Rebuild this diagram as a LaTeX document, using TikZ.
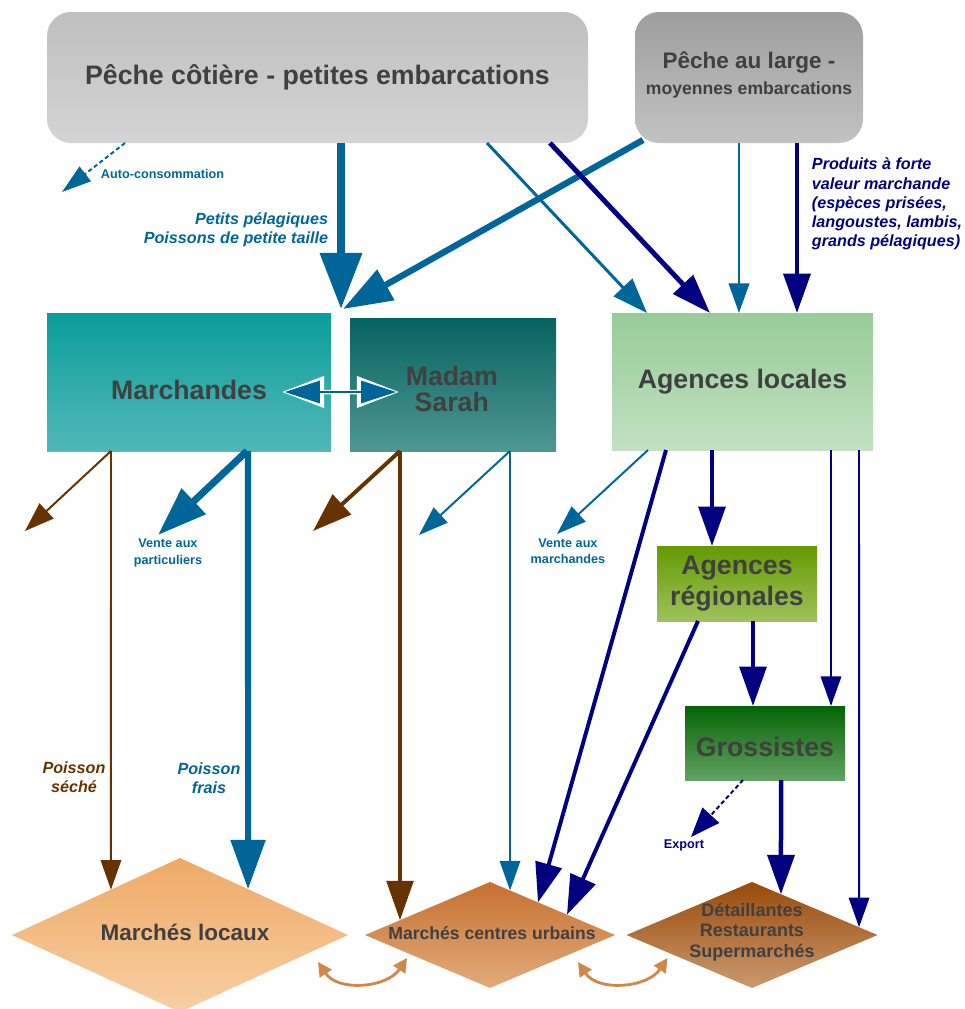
\documentclass[tikz,border=0pt]{standalone}
\usepackage{fontspec}
\setmainfont{Liberation Sans}
\usetikzlibrary{positioning,shapes.geometric,arrows.meta,calc}

\definecolor{fishblue}{HTML}{00669A}
\definecolor{fishnavy}{HTML}{000080}
\definecolor{fishbrown}{HTML}{663300}
\definecolor{labelgray}{HTML}{404040}
\definecolor{curvorange}{HTML}{D08848}

\newcommand{\pu}{0.025cm}

\begin{document}
\begin{tikzpicture}[
    x=\pu, y=-\pu,
    box/.style={rectangle, inner sep=0pt, outer sep=0pt, align=center, text=labelgray, font=\fontsize{19}{18.5}\selectfont\bfseries},
    boxtext/.style={align=center, text=labelgray, font=\fontsize{19}{18.5}\selectfont\bfseries},
    boat/.style={box, rounded corners=0.6cm},
    market/.style={diamond, inner sep=0pt, outer sep=0pt},
    mtext/.style={align=center, text=labelgray},
    hugetip/.style={-{Triangle[length=40pt,width=29pt]}},
    bigtip/.style={-{Triangle[length=35pt,width=24pt]}},
    midtip/.style={-{Triangle[length=28pt,width=19pt]}},
    smalltip/.style={-{Triangle[length=21pt,width=14.5pt]}},
    swaprim/.style={white, line width=3.2pt, {Triangle[length=30pt,width=22pt]}-{Triangle[length=30pt,width=22pt]}},
    swaparrow/.style={fishblue, line width=1.2pt, {Triangle[length=25pt,width=16pt]}-{Triangle[length=25pt,width=16pt]}, shorten <=2pt, shorten >=2pt},
    note/.style={font=\fontsize{11.5}{13.7}\selectfont\bfseries\itshape},
    tag/.style={font=\fontsize{9}{11.5}\selectfont\bfseries},
]
\useasboundingbox (0,0) rectangle (965,1009);

% Sources
\node[boat, minimum width=541*\pu, minimum height=131*\pu, top color=black!25, bottom color=black!17] (cotiere) at (317.5,77.5) {Pêche côtière - petites embarcations};
\node[boat, minimum width=228*\pu, minimum height=131*\pu, top color=black!38, bottom color=black!24,
      label={[boxtext, yshift=0.07cm, font=\fontsize{16}{18.5}\selectfont\bfseries]center:Pêche au large -\\{\fontsize{12.5}{18.5}\selectfont moyennes embarcations}}] (large) at (749,77.5) {};

% Intermediaries
\node[box, minimum width=284*\pu, minimum height=138*\pu, top color={rgb,255:red,10;green,158;blue,154}, bottom color={rgb,255:red,82;green,184;blue,184},
      label={[boxtext, yshift=-0.2cm]center:Marchandes}] (march) at (189,382) {};
\node[box, minimum width=206*\pu, minimum height=133*\pu, top color={rgb,255:red,7;green,99;blue,95}, bottom color={rgb,255:red,79;green,151;blue,147},
      label={[boxtext, xshift=-0.03cm, yshift=-0.12cm]center:Madam\\Sarah}] (sarah) at (453,384.5) {};
\node[box, minimum width=261*\pu, minimum height=137*\pu, top color={rgb,255:red,152;green,203;blue,152}, bottom color={rgb,255:red,194;green,225;blue,194}] (agloc) at (742.5,381.5) {Agences locales};
\node[box, minimum width=160*\pu, minimum height=75*\pu, top color={rgb,255:red,100;green,154;blue,0}, bottom color={rgb,255:red,158;green,194;blue,94}, font=\fontsize{19}{22.5}\selectfont\bfseries] (agreg) at (737,583.5) {Agences\\régionales};
\node[box, minimum width=160*\pu, minimum height=74*\pu, top color={rgb,255:red,5;green,100;blue,5}, bottom color={rgb,255:red,98;green,162;blue,98},
      label={[boxtext, yshift=-0.1cm]center:Grossistes}] (gross) at (765,743) {};

% Markets
\node[market, minimum width=336*\pu, minimum height=154*\pu, top color={rgb,255:red,238;green,170;blue,102}, bottom color={rgb,255:red,248;green,207;blue,164}] (locaux) at (180,935) {};
\node[mtext, font=\fontsize{16}{18}\selectfont\bfseries] (locauxtext) at (185,932) {Marchés locaux};
\node[market, minimum width=250*\pu, minimum height=106*\pu, top color={rgb,255:red,198;green,112;blue,48}, bottom color={rgb,255:red,226;green,172;blue,124}] (urbains) at (490,935) {};
\node[mtext, font=\fontsize{12.5}{14.5}\selectfont\bfseries] (urbainstext) at (492,933) {Marchés centres urbains};
\node[market, minimum width=251*\pu, minimum height=106*\pu, top color={rgb,255:red,154;green,74;blue,10}, bottom color={rgb,255:red,202;green,154;blue,112}] (detail) at (752,935) {};
\node[mtext, font=\fontsize{12.8}{14.5}\selectfont\bfseries] (detailtext) at (752,932) {Détaillantes\\Restaurants\\Supermarchés};

% Free ends
\coordinate (entry) at (343,309);
\coordinate (auto) at (62,192);
\coordinate (dry) at (25,531);
\coordinate (retail) at (158,535);
\coordinate (sarahdry) at (313,531);
\coordinate (sarahsale) at (419,535);
\coordinate (vendors) at (557,534);
\coordinate (export) at (691,837);

% Flows from the boats
\draw[fishblue, line width=1.4pt, dash pattern=on 3pt off 2pt, -{Triangle[length=21pt,width=13pt]}] (125,0 |- cotiere.south) -- (auto);
\draw[fishblue, line width=5.7pt, hugetip] (341,0 |- cotiere.south) -- (341,0 |- entry);
\draw[fishblue, line width=4.5pt, bigtip] ([shift={(8,-3)}]large.south west) -- (entry);
\draw[fishblue, line width=2.1pt, -{Triangle[length=25pt,width=18pt]}] (487,0 |- cotiere.south) -- (647,0 |- agloc.north);
\draw[fishnavy, line width=3.5pt, midtip] (550,0 |- cotiere.south) -- (710,0 |- agloc.north);
\draw[fishblue, line width=1.8pt, smalltip] (739,0 |- large.south) -- (739,0 |- agloc.north);
\draw[fishnavy, line width=3.2pt, midtip] (797,0 |- large.south) -- (797,0 |- agloc.north);
\draw[swaprim] ([shift={(-49,10)}]march.east) -- ([shift={(49,7.5)}]sarah.west);
\draw[swaparrow] ([shift={(-49,10)}]march.east) -- ([shift={(49,7.5)}]sarah.west);

% Flows from Marchandes and Madam Sarah
\draw[fishbrown, line width=1.4pt, smalltip] (111,0 |- march.south) -- (dry);
\draw[fishbrown, line width=1.4pt, smalltip] (111,0 |- march.south) -- ($(locaux.west)!0.589!(locaux.north)$);
\draw[fishblue, line width=5pt, bigtip] (247,0 |- march.south) -- (retail);
\draw[fishblue, line width=4.3pt, bigtip] (248,0 |- march.south) -- ($(locaux.north)!0.405!(locaux.east)$);
\draw[fishbrown, line width=2.8pt, midtip] (400,0 |- sarah.south) -- (sarahdry);
\draw[fishbrown, line width=2.5pt, midtip] (400,0 |- sarah.south) -- ($(urbains.west)!0.28!(urbains.north)$);
\draw[fishblue, line width=1.4pt, smalltip] (510,0 |- sarah.south) -- (sarahsale);
\draw[fishblue, line width=1.4pt, smalltip] (510,0 |- sarah.south) -- ($(urbains.north)!0.16!(urbains.east)$);

% Flows from the agencies
\draw[fishblue, line width=1.4pt, smalltip] (648,0 |- agloc.south) -- (vendors);
\draw[fishnavy, line width=2.8pt, midtip] (666,0 |- agloc.south) -- ($(urbains.north)!0.384!(urbains.east)$);
\draw[fishnavy, line width=2.8pt, midtip] (712,0 |- agloc.south) -- (712,0 |- agreg.north);
\draw[fishnavy, line width=1.4pt, smalltip] (831,0 |- agloc.south) -- (831,0 |- gross.north);
\draw[fishnavy, line width=1.4pt, smalltip] (859,0 |- agloc.south) -- ($(detail.north)!0.853!(detail.east)$);
\draw[fishnavy, line width=2.8pt, midtip] (698,0 |- agreg.south) -- ($(urbains.north)!0.616!(urbains.east)$);
\draw[fishnavy, line width=2.8pt, midtip] (753,0 |- agreg.south) -- (753,0 |- gross.north);
\draw[fishnavy, line width=1.4pt, dash pattern=on 3pt off 2pt, -{Triangle[length=21pt,width=16pt]}] (743,0 |- gross.south) -- (export);
\draw[fishnavy, line width=3.2pt, midtip] (781,0 |- gross.south) -- ($(detail.north)!0.231!(detail.east)$);

% Exchanges between markets
\draw[curvorange, line width=2pt, {Triangle[length=10pt,width=10pt]}-{Triangle[length=10pt,width=10pt]}] ([shift={(-30,27)}]locaux.east) .. controls +(20,30) and +(-20,30) .. ([shift={(42,23)}]urbains.west);
\draw[curvorange, line width=2pt, {Triangle[length=10pt,width=10pt]}-{Triangle[length=10pt,width=10pt]}] ([shift={(-37,27)}]urbains.east) .. controls +(20,30) and +(-20,30) .. ([shift={(41,23)}]detail.west);

% Labels
\node[tag, text=fishblue, anchor=west] (autolabel) at (96,174) {Auto-consommation};
\node[note, text=fishblue, align=right, anchor=east] (pelag) at (333,230) {Petits pélagiques\\Poissons de petite taille};
\node[note, text=fishnavy, align=left, anchor=north west] (produits) at (807,153) {Produits à forte\\valeur marchande\\(espèces prisées,\\langoustes, lambis,\\grands pélagiques)};
\node[tag, text=fishblue, align=center] (partic) at (168,553) {Vente aux\\particuliers};
\node[tag, text=fishblue, align=center] (marchlabel) at (568,551) {Vente aux\\marchandes};
\node[note, text=fishbrown, align=center] (seche) at (74,777) {Poisson\\séché};
\node[note, text=fishblue, align=center] (frais) at (209,778) {Poisson\\frais};
\node[tag, text=fishnavy] (exportlabel) at (684,845) {Export};

\end{tikzpicture}
\end{document}
